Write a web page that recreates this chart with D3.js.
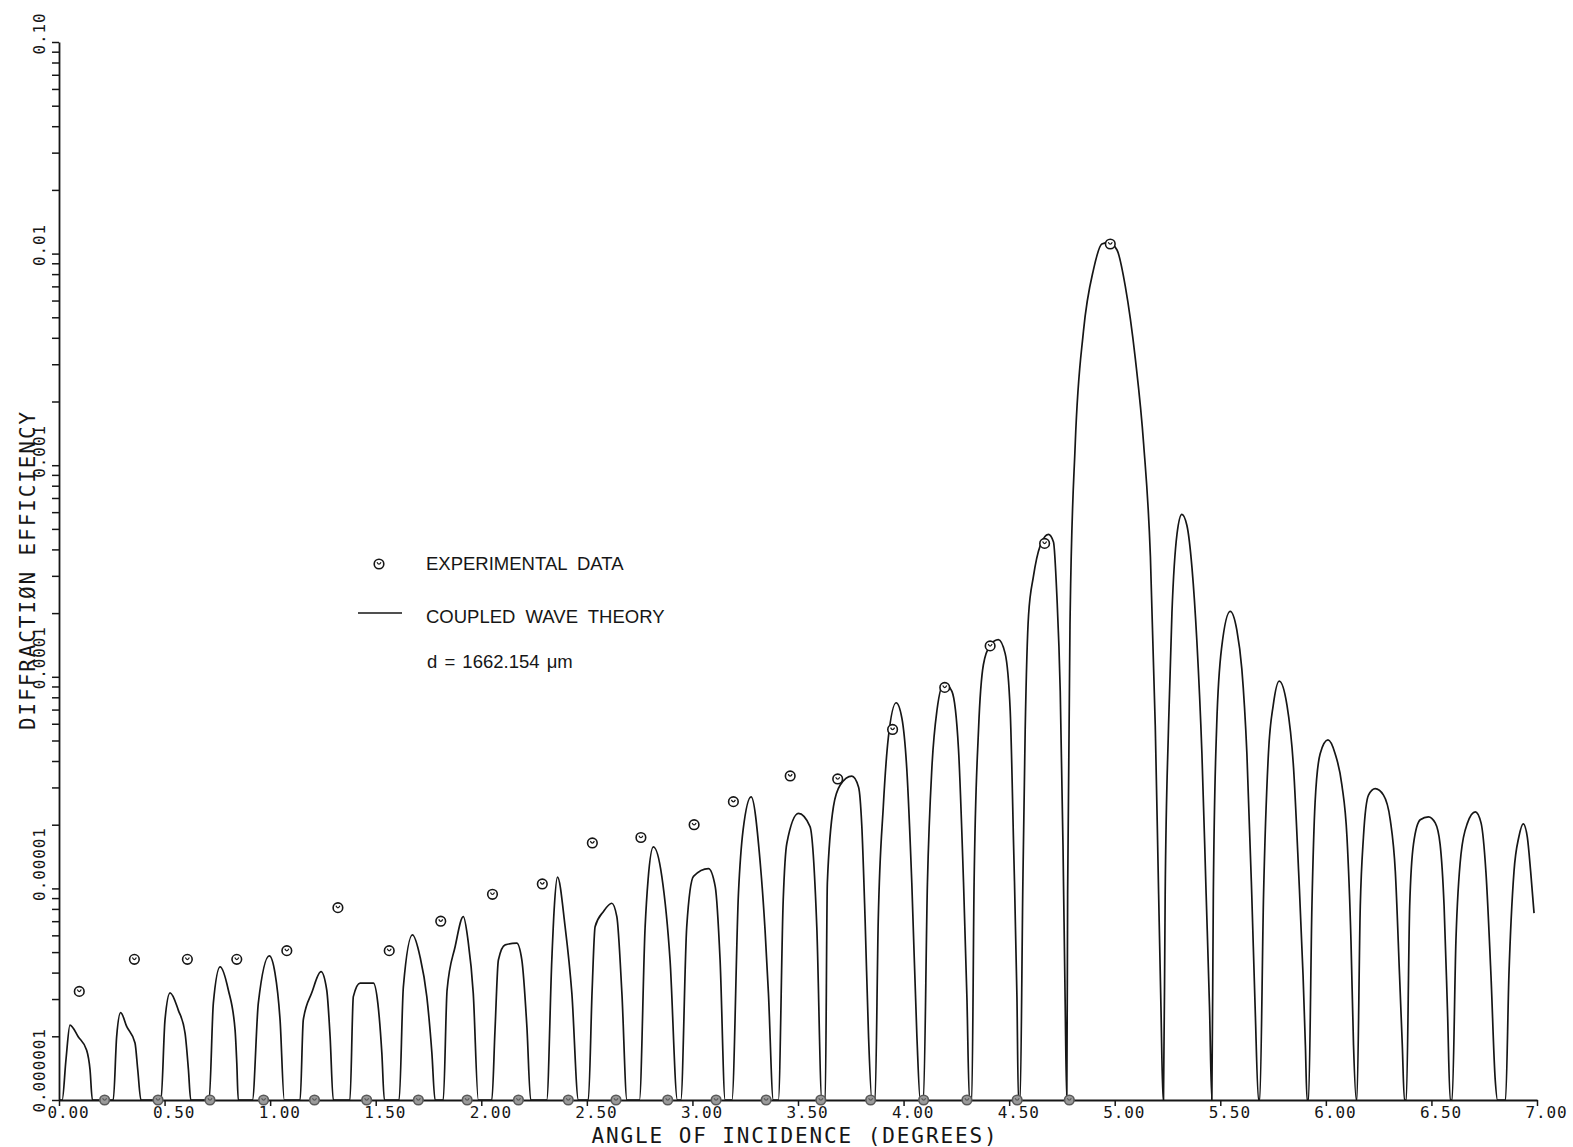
<!DOCTYPE html>
<html>
<head>
<meta charset="utf-8">
<script src="https://cdn.jsdelivr.net/npm/d3@7"></script>
<style>
  html, body { margin: 0; padding: 0; background: #ffffff; }
  svg { display: block; }
</style>
</head>
<body>
<svg id="chart" width="1573" height="1147"></svg>
<script>
// Coupled wave theory curve: angle of incidence (degrees) and diffraction efficiency.
// Zero entries are the nulls between side lobes; they sit on the lower edge of the plot.
const theoryAngle = [
  0.000, 0.015, 0.033, 0.052, 0.091, 0.131, 0.147, 0.158,
  0.257, 0.273, 0.292, 0.321, 0.360, 0.373, 0.388,
  0.483, 0.502, 0.526, 0.565, 0.597, 0.613, 0.624,
  0.711, 0.731, 0.763, 0.802, 0.834, 0.842, 0.849,
  0.916, 0.944, 0.996, 1.023, 1.047, 1.067,
  1.142, 1.157, 1.197, 1.241, 1.268, 1.284, 1.299,
  1.378, 1.394, 1.426, 1.489, 1.510, 1.529, 1.541,
  1.611, 1.631, 1.674, 1.710, 1.742, 1.766, 1.781,
  1.820, 1.838, 1.876, 1.915, 1.937, 1.962, 1.986,
  2.050, 2.065, 2.081, 2.113, 2.168, 2.192, 2.216, 2.234,
  2.310, 2.334, 2.345, 2.361, 2.397, 2.429, 2.460,
  2.507, 2.525, 2.539, 2.578, 2.618, 2.642, 2.666, 2.690,
  2.749, 2.776, 2.790, 2.815, 2.855, 2.894, 2.929,
  2.945, 2.973, 3.005, 3.076, 3.108, 3.131, 3.155,
  3.187, 3.218, 3.240, 3.278, 3.320, 3.344, 3.360, 3.383,
  3.407, 3.430, 3.447, 3.502, 3.557, 3.589, 3.613,
  3.629, 3.639, 3.668, 3.700, 3.755, 3.787, 3.802, 3.818, 3.834, 3.850,
  3.865, 3.880, 3.904, 3.928, 3.965, 3.992, 4.015, 4.039, 4.063, 4.079,
  4.094, 4.113, 4.134, 4.158, 4.192, 4.229, 4.260, 4.284, 4.300, 4.312,
  4.323, 4.334, 4.355, 4.378, 4.410, 4.449, 4.481, 4.505, 4.521, 4.537, 4.544,
  4.552, 4.565, 4.576, 4.592, 4.615, 4.647, 4.686, 4.710, 4.726, 4.742, 4.755, 4.765, 4.773,
  4.777, 4.789, 4.813, 4.852, 4.900, 4.939, 4.971, 5.011, 5.050, 5.098, 5.137, 5.169, 5.192, 5.208, 5.219, 5.229,
  5.231, 5.239, 5.255, 5.271, 5.295, 5.318, 5.342, 5.366, 5.389, 5.413, 5.433, 5.449, 5.460,
  5.467, 5.483, 5.507, 5.547, 5.578, 5.602, 5.626, 5.649, 5.665, 5.681,
  5.687, 5.705, 5.728, 5.751, 5.779, 5.816, 5.847, 5.871, 5.892, 5.903, 5.911,
  5.918, 5.934, 5.949, 5.973, 6.010, 6.044, 6.076, 6.100, 6.119, 6.131, 6.144,
  6.147, 6.163, 6.178, 6.202, 6.234, 6.273, 6.305, 6.329, 6.349, 6.362, 6.372,
  6.381, 6.397, 6.415, 6.447, 6.486, 6.518, 6.541, 6.560, 6.576, 6.589,
  6.598, 6.616, 6.640, 6.671, 6.708, 6.735, 6.758, 6.782, 6.802, 6.813,
  6.851, 6.867, 6.891, 6.914, 6.935, 6.954, 6.970, 6.986
];
const theoryEff = [
  0, 0, 1.55e-6, 2.26e-6, 1.99e-6, 1.72e-6, 1.39e-6, 0,
  0, 1.99e-6, 2.59e-6, 2.22e-6, 1.86e-6, 1.39e-6, 0,
  0, 2.39e-6, 3.21e-6, 2.66e-6, 2.07e-6, 1.39e-6, 0,
  0, 2.87e-6, 4.26e-6, 3.31e-6, 2.14e-6, 1.50e-6, 0,
  0, 2.87e-6, 4.80e-6, 3.98e-6, 2.39e-6, 0,
  0, 2.39e-6, 3.21e-6, 4.04e-6, 3.31e-6, 1.99e-6, 0,
  0, 3.08e-6, 3.57e-6, 3.57e-6, 2.87e-6, 1.67e-6, 0,
  0, 3.43e-6, 6.03e-6, 4.75e-6, 3.08e-6, 1.67e-6, 0,
  0, 3.31e-6, 5.30e-6, 7.35e-6, 5.70e-6, 3.19e-6, 0,
  0, 2.14e-6, 4.59e-6, 5.41e-6, 5.51e-6, 4.59e-6, 2.22e-6, 0,
  0, 4.59e-6, 7.91e-6, 1.13e-5, 6.59e-6, 3.19e-6, 0,
  0, 3.31e-6, 6.59e-6, 7.76e-6, 8.51e-6, 7.35e-6, 3.19e-6, 0,
  0, 6.59e-6, 1.10e-5, 1.57e-5, 1.14e-5, 4.59e-6, 0,
  0, 6.59e-6, 1.14e-5, 1.24e-5, 1.02e-5, 4.59e-6, 0,
  0, 9.48e-6, 1.89e-5, 2.71e-5, 1.36e-5, 6.35e-6, 3.19e-6, 0,
  0, 8.81e-6, 1.63e-5, 2.26e-5, 1.96e-5, 6.59e-6, 0,
  0, 1.06e-5, 2.44e-5, 3.08e-5, 3.39e-5, 3.01e-5, 1.99e-5, 7.02e-6, 2.01e-6, 0,
  0, 7.02e-6, 2.44e-5, 5.18e-5, 7.54e-5, 6.38e-5, 3.70e-5, 1.06e-5, 2.01e-6, 0,
  0, 1.06e-5, 3.70e-5, 6.93e-5, 9.35e-5, 8.53e-5, 4.57e-5, 1.06e-5, 3.05e-6, 0,
  0, 1.06e-5, 5.62e-5, 1.14e-4, 1.41e-4, 1.50e-4, 1.29e-4, 6.93e-5, 1.61e-5, 3.05e-6, 0,
  0, 1.06e-5, 5.62e-5, 1.96e-4, 2.98e-4, 4.16e-4, 4.71e-4, 4.34e-4, 2.42e-4, 8.53e-5, 1.61e-5, 3.05e-6, 0,
  9.38e-6, 2.00e-4, 1.26e-3, 4.30e-3, 8.45e-3, 1.11e-2, 1.13e-2, 1.04e-2, 7.02e-3, 3.16e-3, 1.26e-3, 3.71e-4, 5.89e-5, 9.38e-6, 2.75e-6, 0,
  0, 9.38e-6, 5.89e-5, 2.00e-4, 4.73e-4, 5.86e-4, 5.19e-4, 3.27e-4, 1.48e-4, 4.34e-5, 9.38e-6, 2.75e-6, 0,
  9.38e-6, 5.89e-5, 1.39e-4, 2.04e-4, 1.67e-4, 1.09e-4, 4.34e-5, 9.38e-6, 2.75e-6, 0,
  0, 9.38e-6, 4.34e-5, 7.37e-5, 9.55e-5, 7.33e-5, 3.71e-5, 1.20e-5, 3.88e-6, 1.82e-6, 0,
  0, 8.24e-6, 2.55e-5, 4.33e-5, 5.03e-5, 4.33e-5, 3.08e-5, 1.75e-5, 5.65e-6, 1.82e-6, 0,
  0, 8.24e-6, 1.75e-5, 2.76e-5, 2.96e-5, 2.76e-5, 2.11e-5, 1.20e-5, 3.88e-6, 1.82e-6, 0,
  0, 8.24e-6, 1.62e-5, 2.11e-5, 2.18e-5, 2.04e-5, 1.62e-5, 8.24e-6, 2.66e-6, 0,
  0, 5.65e-6, 1.45e-5, 2.04e-5, 2.30e-5, 2.04e-5, 1.20e-5, 3.88e-6, 1.25e-6, 0,
  0, 3.88e-6, 1.20e-5, 1.75e-5, 2.02e-5, 1.75e-5, 1.20e-5, 7.64e-6
];

// Measured efficiencies near the lobe maxima
const peakAngle = [0.096, 0.357, 0.608, 0.842, 1.079, 1.321, 1.564, 1.808, 2.053, 2.289,
                   2.526, 2.756, 3.008, 3.194, 3.463, 3.688, 3.948, 4.195, 4.410, 4.668, 4.979];
const peakEff   = [3.26e-6, 4.62e-6, 4.62e-6, 4.62e-6, 5.08e-6, 8.11e-6, 5.08e-6, 7.00e-6, 9.38e-6, 1.05e-5,
                   1.64e-5, 1.74e-5, 2.00e-5, 2.57e-5, 3.40e-5, 3.29e-5, 5.64e-5, 8.91e-5, 1.40e-4, 4.27e-4, 1.11e-2];

// Measured efficiencies at the nulls (zero, drawn on the lower edge)
const nullAngle = [0.216, 0.469, 0.715, 0.969, 1.210, 1.457, 1.702, 1.933, 2.176, 2.412,
                   2.638, 2.883, 3.112, 3.349, 3.608, 3.844, 4.095, 4.300, 4.538, 4.785];
const nullEff   = [0, 0, 0, 0, 0, 0, 0, 0, 0, 0, 0, 0, 0, 0, 0, 0, 0, 0, 0, 0];

// Axis ticks and labels
const xTicks      = [0, 0.5, 1, 1.5, 2, 2.5, 3, 3.5, 4, 4.5, 5, 5.5, 6, 6.5, 7];
const xTickLabels = ["0.00", "0.50", "1.00", "1.50", "2.00", "2.50", "3.00", "3.50",
                     "4.00", "4.50", "5.00", "5.50", "6.00", "6.50", "7.00"];
const yMajor      = [1e-6, 1e-5, 1e-4, 1e-3, 1e-2, 1e-1];
const yTickLabels = ["0.000001", "0.00001", "0.0001", "0.001", "0.01", "0.10"];

const legendItems = ["EXPERIMENTAL DATA", "COUPLED WAVE THEORY", "d = 1662.154 \u03bcm"];

const svg = d3.select("#chart");
const ink = "#161616";
const plotFont = "'DejaVu Sans Mono', monospace";
const letterFont = "'Liberation Sans', Arial, sans-serif";

const x = d3.scaleLinear().domain([0, 7]).range([59, 1537]);
const y = d3.scaleLog().domain([1e-6, 0.1]).range([1100, 42]).clamp(true);

// Minor ticks: 2..9 within each decade
const yMinor = [];
yMajor.slice(0, -1).forEach(d => { for (let k = 2; k <= 9; k++) yMinor.push(d * k); });
const yAllTicks = yMajor.concat(yMinor);

// ---- X axis ----
const xAxis = d3.axisBottom(x)
  .tickValues(xTicks)
  .tickSize(6)
  .tickSizeOuter(0)
  .tickFormat((d, i) => xTickLabels[i]);

const gx = svg.append("g")
  .attr("transform", `translate(0,${y.range()[0]})`)
  .call(xAxis);
gx.select(".domain").attr("stroke", ink).attr("stroke-width", 1.8);
gx.selectAll(".tick line").attr("stroke", ink).attr("stroke-width", 1.5);
gx.selectAll(".tick text")
  .attr("fill", ink)
  .attr("font-family", plotFont)
  .attr("font-size", 16)
  .attr("letter-spacing", "0.9px")
  .attr("text-anchor", "start")
  .attr("x", -12)
  .attr("y", 18)
  .attr("dy", null);

// ---- Y axis ----
const yAxis = d3.axisLeft(y)
  .tickValues(yAllTicks)
  .tickSize(7)
  .tickSizeOuter(0)
  .tickFormat(d => {
    const i = yMajor.indexOf(d);
    return i >= 0 ? yTickLabels[i] : "";
  });

const gy = svg.append("g")
  .attr("transform", `translate(${x.range()[0]},0)`)
  .call(yAxis);
gy.select(".domain").attr("stroke", ink).attr("stroke-width", 1.8);
gy.selectAll(".tick line").attr("stroke", ink).attr("stroke-width", 1.5);
gy.selectAll(".tick text")
  .attr("fill", ink)
  .attr("font-family", plotFont)
  .attr("font-size", 16)
  .attr("letter-spacing", "0.9px")
  .attr("text-anchor", "start")
  .attr("x", null)
  .attr("dy", null)
  .attr("transform", "translate(-14,12) rotate(-90)");

// ---- Axis titles ----
svg.append("text")
  .attr("x", 795)
  .attr("y", 1143)
  .attr("text-anchor", "middle")
  .attr("font-family", plotFont)
  .attr("font-size", 21)
  .attr("letter-spacing", "1.9px")
  .attr("fill", ink)
  .text("ANGLE OF INCIDENCE (DEGREES)");

svg.append("text")
  .attr("transform", "translate(35,570) rotate(-90)")
  .attr("text-anchor", "middle")
  .attr("font-family", plotFont)
  .attr("font-size", 21)
  .attr("letter-spacing", "1.9px")
  .attr("fill", ink)
  .text("DIFFRACTI\u00d8N EFFICIENCY");

// ---- Theory curve ----
const theory = theoryAngle.map((a, i) => [a, theoryEff[i]]);
const line = d3.line()
  .x(d => x(d[0]))
  .y(d => y(Math.max(d[1], y.domain()[0])))
  .curve(d3.curveMonotoneX);

svg.append("path")
  .datum(theory)
  .attr("fill", "none")
  .attr("stroke", ink)
  .attr("stroke-width", 1.7)
  .attr("stroke-linejoin", "round")
  .attr("d", line);

// ---- Experimental points ----
function drawMarker(g, cx, cy, faded) {
  const m = g.append("g").attr("transform", `translate(${cx},${cy})`);
  m.append("circle")
    .attr("r", 4.8)
    .attr("fill", faded ? "#9a9a9a" : "#ffffff")
    .attr("stroke", faded ? "#5a5a5a" : ink)
    .attr("stroke-width", 1.6);
  m.append("path")
    .attr("d", "M-2,-1.8 Q0,2.2 2,-1.8")
    .attr("fill", "none")
    .attr("stroke", faded ? "#5a5a5a" : ink)
    .attr("stroke-width", 1.2);
}

const gPts = svg.append("g");
peakAngle.forEach((a, i) => drawMarker(gPts, x(a), y(peakEff[i]), false));
nullAngle.forEach((a, i) => drawMarker(gPts, x(a), y(Math.max(nullEff[i], y.domain()[0])), true));

// ---- Legend ----
const gLeg = svg.append("g")
  .attr("font-family", letterFont)
  .attr("font-size", 18.5)
  .attr("fill", ink)
  .attr("word-spacing", "5px");

drawMarker(gLeg, 379, 564, false);
gLeg.append("text").attr("x", 426).attr("y", 570).text(legendItems[0]);

gLeg.append("line")
  .attr("x1", 358).attr("x2", 402)
  .attr("y1", 613).attr("y2", 613)
  .attr("stroke", ink).attr("stroke-width", 1.7);
gLeg.append("text").attr("x", 426).attr("y", 623).text(legendItems[1]);

gLeg.append("text").attr("x", 427).attr("y", 668).attr("word-spacing", "2px").text(legendItems[2]);
</script>
</body>
</html>
